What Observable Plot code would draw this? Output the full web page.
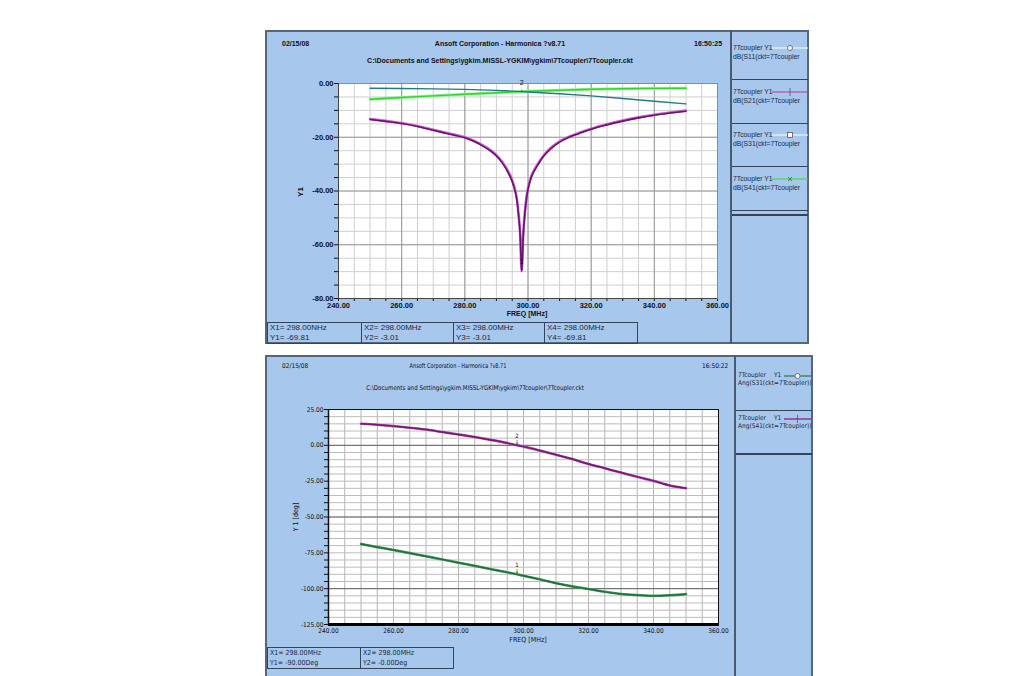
<!DOCTYPE html>
<html><head><meta charset="utf-8">
<script src="https://cdn.jsdelivr.net/npm/d3@7"></script>
<script src="https://cdn.jsdelivr.net/npm/@observablehq/plot@0.6"></script>
<style>
body{margin:0;background:#fff;width:1009px;height:676px;position:relative;overflow:hidden;font-family:"Liberation Sans",Arial,sans-serif;}
.abs{position:absolute;white-space:nowrap;}
.panel{position:absolute;background:#a7c7ec;box-sizing:border-box;border:2px solid #56667c;}
.b{font-weight:bold;font-size:7px;color:#111;}
.n{font-family:"Liberation Sans Narrow","DejaVu Sans Condensed",sans-serif;font-size:7px;color:#111;}
.mk{position:absolute;box-sizing:border-box;border:1px solid #34445c;font-size:8px;line-height:10px;color:#1c2a44;padding-left:2px;overflow:hidden;white-space:nowrap;}
.leg{position:absolute;font-size:6.8px;line-height:9px;color:#1c2a44;white-space:nowrap;}
.sep{position:absolute;background:#34445c;height:1px;}
</style></head><body>
<script>
// ---------------- data: top chart (dB) ----------------
const freqDip = [250,255,260,265,270,275,280,283,286,288,290,292,294,295,296,296.5,297,297.5,298,298.5,299,299.5,300,301,302,303,305,307,310,313,316,320,325,330,335,340,345,350];
const dbS11 = [-13.4,-14.1,-14.9,-16.0,-17.4,-18.8,-20.2,-21.6,-23.5,-25.0,-27.0,-29.8,-33.8,-36.5,-40.5,-43.5,-49.0,-56.0,-69.81,-56.5,-48.5,-43.0,-39.5,-35.0,-32.5,-30.5,-27.0,-24.5,-21.8,-20.0,-18.7,-17.0,-15.4,-14.0,-12.8,-11.8,-11.0,-10.3];
const dbS41 = [-13.2,-13.9,-14.7,-15.8,-17.2,-18.6,-20.0,-21.4,-23.2,-24.7,-26.7,-29.4,-33.3,-36.0,-40.0,-43.0,-48.5,-55.5,-69.81,-56.0,-48.0,-42.5,-39.0,-34.6,-32.1,-30.1,-26.7,-24.2,-21.5,-19.8,-18.5,-16.8,-15.2,-13.8,-12.6,-11.6,-10.8,-10.1];
const freqFlat = [250,260,270,280,290,298,300,310,320,330,340,350];
const dbS21 = [-1.74,-1.87,-2.0,-2.2,-2.55,-3.01,-3.15,-3.8,-4.6,-5.6,-6.6,-7.6];
const dbS31 = [-5.85,-5.2,-4.6,-4.0,-3.45,-3.01,-2.9,-2.5,-2.15,-1.95,-1.8,-1.74];
const topXTicks = [240,245,250,255,260,265,270,275,280,285,290,295,300,305,310,315,320,325,330,335,340,345,350,355,360];
const topXMajor = [240,260,280,300,320,340,360];
const topYTicks = [0,-5,-10,-15,-20,-25,-30,-35,-40,-45,-50,-55,-60,-65,-70,-75,-80];
const topYMajor = [0,-20,-40,-60,-80];

// ---------------- data: bottom chart (deg) ----------------
const freqAng = [250,255,260,265,270,275,280,285,290,295,298,300,305,310,315,320,325,330,335,340,345,350];
const angS41 = [15.1,14.4,13.4,12.3,11.0,9.3,7.6,5.8,3.8,1.6,0.0,-0.9,-3.6,-6.5,-9.6,-13.0,-16.0,-19.0,-22.0,-24.8,-28.0,-29.9];
const angS31 = [-68.8,-71.0,-73.0,-75.2,-77.4,-79.6,-81.9,-84.1,-86.4,-88.6,-90.0,-91.0,-93.5,-96.2,-98.4,-100.2,-102.2,-103.7,-104.5,-105.0,-104.6,-103.8];
const botYTicks = [25,20,15,10,5,0,-5,-10,-15,-20,-25,-30,-35,-40,-45,-50,-55,-60,-65,-70,-75,-80,-85,-90,-95,-100,-105,-110,-115,-120,-125];
const botYLabels = [25,0,-25,-50,-75,-100,-125];
const botYMajor = [0,-50,-100];

// markers
const topMarkers = [{f:298,v:-3.01,t:"2"},{f:298,v:-69.81,t:"1"}];
const botMarkers = [{f:298,v:0.0,t:"2"},{f:298,v:-90.0,t:"1"}];

function el(cls, css, html){const d=document.createElement("div");d.className=cls;d.style.cssText=css;d.innerHTML=html||"";document.body.appendChild(d);return d;}

// ---------------- panels ----------------
el("panel","left:265px;top:30px;width:544px;height:314px;");
el("panel","left:265px;top:355px;width:548px;height:330px;");
el("abs","left:730px;top:30px;width:2px;height:314px;background:#4a5a70;");
el("abs","left:734px;top:355px;width:2px;height:330px;background:#4a5a70;");

// top headings
el("abs b","left:282px;top:40px;","02/15/08");
el("abs b","left:500px;top:40px;transform:translateX(-50%);","Ansoft Corporation - Harmonica ?v8.71");
el("abs b","left:694px;top:40px;","16:50:25");
el("abs b","left:500px;top:57px;transform:translateX(-50%);","C:\\Documents and Settings\\ygkim.MISSL-YGKIM\\ygkim\\7Tcoupler\\7Tcoupler.ckt");
el("abs b","left:527px;top:310px;transform:translateX(-50%);","FREQ [MHz]");
el("abs b","left:300px;top:192px;transform:translate(-50%,-50%) rotate(-90deg);font-size:8px;","Y1");

// bottom headings
el("abs n","left:282px;top:362px;font-size:6.5px;","02/15/08");
el("abs n","left:458px;top:362px;transform:translateX(-50%) scaleX(0.85);font-size:6.5px;","Ansoft Corporation - Harmonica ?v8.71");
el("abs n","left:702px;top:362px;font-size:6.5px;","16:50:22");
el("abs n","left:475px;top:384px;transform:translateX(-50%) scaleX(0.95);font-size:6.5px;","C:\\Documents and Settings\\ygkim.MISSL-YGKIM\\ygkim\\7Tcoupler\\7Tcoupler.ckt");
el("abs n","left:528px;top:636px;transform:translateX(-50%);","FREQ [MHz]");
el("abs n","left:296px;top:517px;transform:translate(-50%,-50%) rotate(-90deg);","Y 1 [deg]");

// marker boxes
const topBoxes = [["X1= 298.00NHz","Y1= -69.81"],["X2= 298.00MHz","Y2= -3.01"],["X3= 298.00MHz","Y3= -3.01"],["X4= 298.00MHz","Y4= -69.81"]];
const topBoxX = [267,361,453,544];
topBoxes.forEach((b,i)=>el("mk",`left:${topBoxX[i]}px;top:322px;width:${(i<3?topBoxX[i+1]-topBoxX[i]:93)+1}px;height:22px;`,b[0]+"<br>"+b[1]));
const botBoxes = [["X1= 298.00MHz","Y1= -90.00Deg"],["X2= 298.00MHz","Y2= -0.00Deg"]];
const botBoxX = [267,360];
botBoxes.forEach((b,i)=>el("mk",`left:${botBoxX[i]}px;top:647px;width:94px;height:22px;font-family:'Liberation Sans Narrow','DejaVu Sans Condensed',sans-serif;font-size:7px;`,b[0]+"<br>"+b[1]));

// legends
function legSwatch(color, sym, left, w){
  const c = w/2;
  let s=`<svg width="${w}" height="8" style="position:absolute;left:${left}px;top:1px;"><line x1="0" y1="4" x2="${w}" y2="4" stroke="${color}" stroke-width="1.2"/>`;
  if(sym==="o") s+=`<circle cx="${c}" cy="4" r="2.5" fill="#fff" stroke="#555" stroke-width="0.8"/>`;
  if(sym==="+") s+=`<line x1="${c}" y1="0" x2="${c}" y2="8" stroke="#555" stroke-width="0.8"/>`;
  if(sym==="s") s+=`<rect x="${c-2.5}" y="1.5" width="5" height="5" fill="#fff" stroke="#555" stroke-width="0.8"/>`;
  if(sym==="x") s+=`<path d="M${c-2},2L${c+2},6M${c+2},2L${c-2},6" stroke="#2a8a2a" stroke-width="0.9"/>`;
  return s+"</svg>";
}
const topLegNames = ["dB(S11(ckt=7Tcoupler","dB(S21(ckt=7Tcoupler","dB(S31(ckt=7Tcoupler","dB(S41(ckt=7Tcoupler"];
const topLegColors = ["#ffffff","#b03aa0","#ffffff","#33dd33"];
const topLegSyms = ["o","+","s","x"];
topLegNames.forEach((n,i)=>{
  const y = 43 + i*43.5;
  el("leg",`left:733px;top:${y}px;width:75px;height:22px;`,"7Tcoupler Y1<br>"+n+legSwatch(topLegColors[i],topLegSyms[i],39,36));
  el("sep",`left:732px;top:${y+36}px;width:76px;`);
});
el("sep",`left:732px;top:214px;width:76px;height:2px;`);
const botLegNames = ["Ang(S31(ckt=7Tcoupler))","Ang(S41(ckt=7Tcoupler))"];
const botLegColors = ["#2a7a40","#7a1a7a"];
const botLegSyms = ["o","+"];
botLegNames.forEach((n,i)=>{
  const y = 371 + i*43;
  el("leg",`left:738px;top:${y}px;width:73px;height:22px;font-family:'Liberation Sans Narrow','DejaVu Sans Condensed',sans-serif;font-size:6.5px;line-height:8px;`,
     "7Tcoupler<span style='position:absolute;left:36px;top:0'>Y1</span><br>"+n+legSwatch(botLegColors[i],botLegSyms[i],46,27));
  el("sep",`left:736px;top:${y+39}px;width:76px;`);
});
el("sep",`left:736px;top:453px;width:76px;height:2px;`);

// ---------------- top plot ----------------
const topRows = [];
freqDip.forEach((f,i)=>{topRows.push({f,v:dbS41[i],s:"S41"});});
freqDip.forEach((f,i)=>{topRows.push({f,v:dbS11[i],s:"S11"});});
freqFlat.forEach((f,i)=>{topRows.push({f,v:dbS21[i],s:"S21"});});
freqFlat.forEach((f,i)=>{topRows.push({f,v:dbS31[i],s:"S31"});});
const sel = (rows,s)=>rows.filter(d=>d.s===s);

const chartTop = Plot.plot({
  width:466, height:290, marginLeft:73, marginTop:53, marginRight:14, marginBottom:22,
  style:{background:"transparent", fontFamily:"Liberation Sans, Arial, sans-serif", fontSize:"7.5px", fontWeight:"bold", color:"#111"},
  x:{domain:[240,360], ticks:topXTicks, tickFormat:d=>topXMajor.includes(d)?d.toFixed(2):"", tickSize:3, tickPadding:1.5, label:null},
  y:{domain:[-80,0], ticks:topYTicks, tickFormat:d=>topYMajor.includes(d)?d.toFixed(2):"", tickSize:4, tickPadding:1, label:null},
  marks:[
    Plot.frame({fill:"white"}),
    Plot.ruleX(topXTicks,{stroke:"#cfcfcf", strokeWidth:1}),
    Plot.ruleY(topYTicks,{stroke:"#cfcfcf", strokeWidth:1}),
    Plot.ruleX(topXMajor,{stroke:"#9a9a9a", strokeWidth:1}),
    Plot.ruleY(topYMajor,{stroke:"#9a9a9a", strokeWidth:1}),
    Plot.frame({stroke:"#8a8a8a"}),
    Plot.ruleX([240],{stroke:"#444"}),
    Plot.ruleY([-80],{stroke:"#444"}),
    Plot.line(sel(topRows,"S31"),{x:"f",y:"v",stroke:"#9af09a",strokeWidth:3}),
    Plot.line(sel(topRows,"S31"),{x:"f",y:"v",stroke:"#2fd62f",strokeWidth:1.4}),
    Plot.line(sel(topRows,"S21"),{x:"f",y:"v",stroke:"#23788a",strokeWidth:1.4}),
    Plot.line(sel(topRows,"S41"),{x:"f",y:"v",stroke:"#c46ac4",strokeWidth:2.6,curve:"monotone-x"}),
    Plot.line(sel(topRows,"S11"),{x:"f",y:"v",stroke:"#6e0f72",strokeWidth:1.6,curve:"monotone-x"}),
    Plot.text(topMarkers,{x:"f",y:"v",text:"t",dy:-9,fontSize:7,fill:"#111",fontWeight:"normal"}),
    Plot.text(topMarkers,{x:"f",y:"v",text:()=>"↓",dy:-3,fontSize:6,fill:"#111",fontWeight:"normal"})
  ]
});
chartTop.style.position="absolute"; chartTop.style.left="265px"; chartTop.style.top="30px";
document.body.appendChild(chartTop);

// ---------------- bottom plot ----------------
const botRows = [];
freqAng.forEach((f,i)=>{botRows.push({f,v:angS41[i],s:"S41"});});
freqAng.forEach((f,i)=>{botRows.push({f,v:angS31[i],s:"S31"});});

const chartBot = Plot.plot({
  width:470, height:290, marginLeft:63, marginTop:54, marginRight:17, marginBottom:21,
  style:{background:"transparent", fontFamily:"Liberation Sans Narrow, DejaVu Sans Condensed, sans-serif", fontSize:"6.5px", color:"#111"},
  x:{domain:[240,360], ticks:topXTicks, tickFormat:d=>topXMajor.includes(d)?d.toFixed(2):"", tickSize:2, tickPadding:1.5, label:null},
  y:{domain:[-125,25], ticks:botYTicks, tickFormat:d=>botYLabels.includes(d)?d.toFixed(2):"", tickSize:4, tickPadding:1, label:null},
  marks:[
    Plot.frame({fill:"white"}),
    Plot.ruleX(topXTicks,{stroke:"#b4b4b4", strokeWidth:1}),
    Plot.ruleY(botYTicks,{stroke:"#bdbdbd", strokeWidth:1}),
    Plot.ruleY(botYMajor,{stroke:"#666", strokeWidth:1}),
    Plot.frame({stroke:"#111"}),
    Plot.ruleX([240],{stroke:"#111", strokeWidth:1.5}),
    Plot.ruleY([-125],{stroke:"#000", strokeWidth:3}),
    Plot.line(sel(botRows,"S41"),{x:"f",y:"v",stroke:"#b05ab0",strokeWidth:2.6,curve:"monotone-x"}),
    Plot.line(sel(botRows,"S41"),{x:"f",y:"v",stroke:"#741674",strokeWidth:1.5,curve:"monotone-x"}),
    Plot.line(sel(botRows,"S31"),{x:"f",y:"v",stroke:"#4f9a68",strokeWidth:2.6,curve:"monotone-x"}),
    Plot.line(sel(botRows,"S31"),{x:"f",y:"v",stroke:"#1f6e38",strokeWidth:1.4,curve:"monotone-x"}),
    Plot.text(botMarkers,{x:"f",y:"v",text:"t",dy:-9,fontSize:6,fill:"#111"}),
    Plot.text(botMarkers,{x:"f",y:"v",text:()=>"↓",dy:-3,fontSize:6,fill:"#111"})
  ]
});
chartBot.style.position="absolute"; chartBot.style.left="265px"; chartBot.style.top="355px";
document.body.appendChild(chartBot);
</script>
</body></html>
